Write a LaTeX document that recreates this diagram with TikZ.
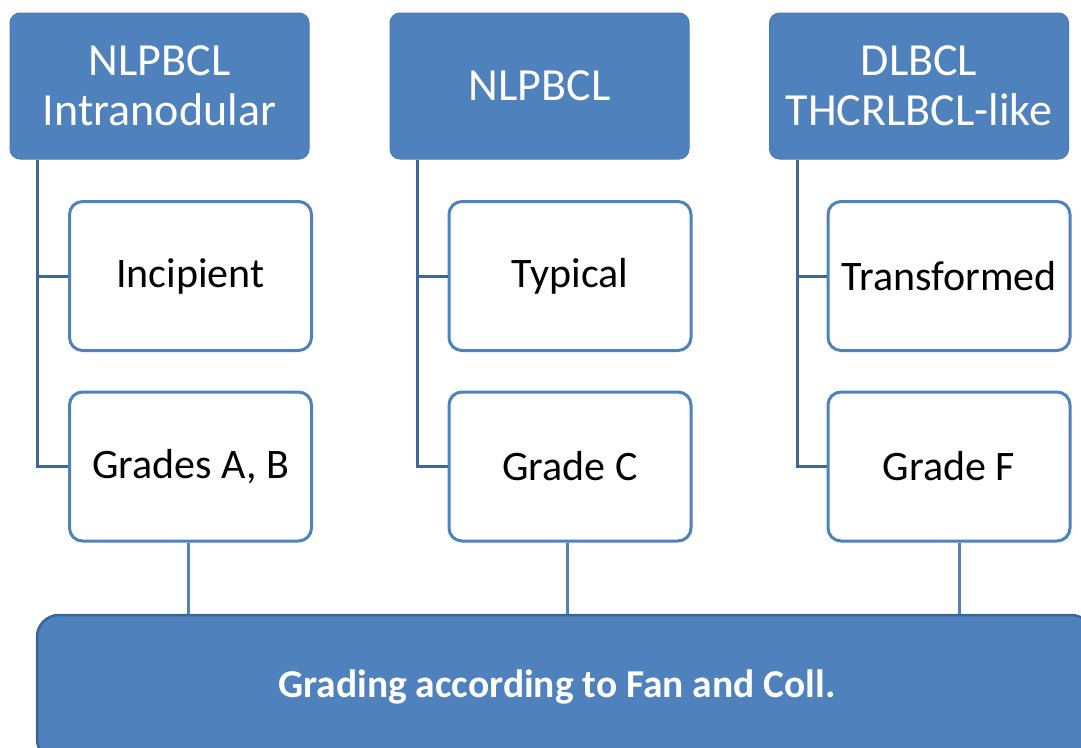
\documentclass[tikz,border=0pt]{standalone}
\usepackage{fontspec}
\setmainfont{Carlito}
\definecolor{hdr}{HTML}{4F81BD}
\definecolor{hdrline}{HTML}{4A7AB3}
\definecolor{treeline}{HTML}{3E6796}
\definecolor{barline}{HTML}{3B6595}
\tikzset{
  hdrbox/.style={draw=hdrline, fill=hdr, line width=1pt, rounded corners=10pt,
    minimum width=299pt, minimum height=146pt, text=white, align=center,
    inner sep=0pt, font=\fontsize{46}{50}\selectfont},
  childbox/.style={draw=hdr, fill=white, line width=3pt, rounded corners=13pt,
    minimum width=242pt, minimum height=149pt, text=black, align=center,
    inner sep=0pt, font=\fontsize{42}{48}\selectfont},
  barbox/.style={draw=barline, fill=hdr, line width=2.5pt, rounded corners=22pt,
    minimum width=1056pt, minimum height=146pt, inner sep=0pt},
  bartxt/.style={text=white, inner sep=0pt, font=\fontsize{39.5}{44}\selectfont\bfseries},
  treeln/.style={draw=treeline, line width=3pt},
  downln/.style={draw=hdr, line width=3pt}
}
\begin{document}
\begin{tikzpicture}[x=1pt,y=-1pt]
\useasboundingbox (0,0) rectangle (1081,747);
\begin{scope}
\clip (0,0) rectangle (1081,747);
% bottom bar
\node[barbox] (bar) at (565,688) {};
\node[bartxt] (bartext) at (557,687) {Grading according to Fan and Coll.};
\end{scope}
% headers
\node[hdrbox] (t1) at (159.5,86) {NLPBCL\\Intranodular};
\node[hdrbox] (t2) at (539.5,86) {NLPBCL};
\node[hdrbox] (t3) at (919,86) {DLBCL\\THCRLBCL-like};
% children
\node[childbox] (c1) at (190.5,276) {Incipient};
\node[childbox] (g1) at (190.5,466.5) {Grades A, B};
\node[childbox] (c2) at (570,276) {Typical};
\node[childbox] (g2) at (570,466.5) {Grade C};
\node[childbox] (c3) at (949,276) {Transformed};
\node[childbox] (g3) at (949,466.5) {Grade F};
% tree connectors
\foreach \i in {1,2,3}{
  \coordinate (s\i) at ([xshift=28pt]t\i.south west);
  \draw[treeln] (s\i) |- (c\i.west);
  \draw[treeln] (s\i) |- (g\i.west);
}
\coordinate (d1) at ([xshift=-2.5pt]g1.south);
\coordinate (d2) at ([xshift=-3pt]g2.south);
\coordinate (d3) at ([xshift=10pt]g3.south);
\foreach \i in {1,2,3}{
  \draw[downln] (d\i) -- (d\i |- bar.north);
}
\end{tikzpicture}
\end{document}
